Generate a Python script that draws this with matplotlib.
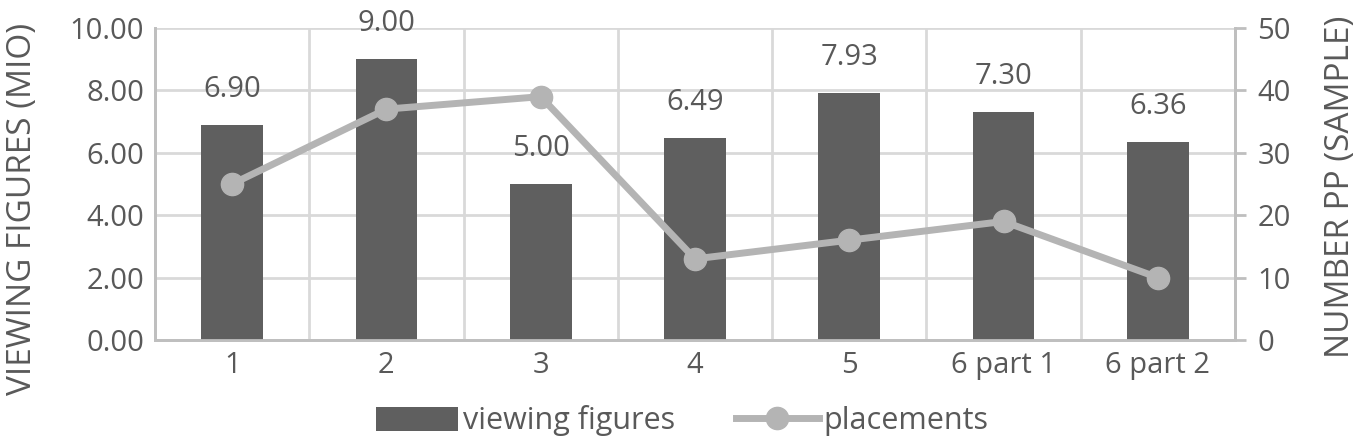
import matplotlib.pyplot as plt
import numpy as np

# data
episodes = ["1", "2", "3", "4", "5", "6 part 1", "6 part 2"]
viewing = [6.90, 9.00, 5.00, 6.49, 7.93, 7.30, 6.36]
placements = [25, 37, 39, 13, 16, 19, 10]

plt.rcParams['font.family'] = ['Open Sans', 'DejaVu Sans']
txt = "#595959"
grid = "#d9d9d9"

fig = plt.figure(figsize=(13.58, 4.42), dpi=100)
ax = fig.add_axes([155 / 1358, 1 - 340 / 442, 1080 / 1358, 312 / 442])
ax2 = ax.twinx()

x = np.arange(len(episodes))
bars = ax.bar(x, viewing, width=0.4, color="#5f5f5f", zorder=3)
for xi, v in zip(x, viewing):
    ax.annotate(f"{v:.2f}", (xi, v), xytext=(0, 15), textcoords="offset points",
                ha="center", va="bottom", fontsize=21, color=txt)

ax.set_xlim(-0.5, len(episodes) - 0.5)
ax.set_ylim(0, 10)
ax.set_yticks(np.arange(0, 10.1, 2))
ax.set_yticklabels([f"{t:.2f}" for t in np.arange(0, 10.1, 2)])
ax.set_xticks(x)
ax.set_xticklabels(episodes)
ax.set_xticks(np.arange(-0.5, len(episodes)), minor=True)
ax.grid(True, axis="y", color=grid, lw=2, zorder=0)
ax.grid(True, axis="x", which="minor", color=grid, lw=2, zorder=0)
ax.tick_params(axis="both", which="both", length=0, labelsize=21, colors=txt, pad=8)
ax.set_ylabel("VIEWING FIGURES (MIO)", fontsize=24, color=txt)
ax.yaxis.set_label_coords(-0.107, 0.42)

line, = ax2.plot(x, placements, color="#b4b4b4", lw=5, marker="o", ms=16, zorder=4)
ax2.set_ylim(0, 50)
ax2.set_yticks(np.arange(0, 51, 10))
ax2.tick_params(axis="y", length=8, width=2, labelsize=21, colors=txt, pad=8)
ax2.tick_params(axis="y", color="#bfbfbf")
ax2.set_ylabel("NUMBER PP (SAMPLE)", fontsize=24, color=txt)
ax2.yaxis.set_label_coords(1.082, 0.49)

for a in (ax, ax2):
    a.spines["top"].set_visible(False)
    for s in ("left", "bottom", "right"):
        a.spines[s].set_color("#bfbfbf")
        a.spines[s].set_linewidth(2)

fig.legend([bars, line], ["viewing figures", "placements"], loc="center",
           bbox_to_anchor=(682 / 1358, 1 - 421 / 442), ncol=2, frameon=False,
           fontsize=22, labelcolor=txt, handlelength=2.7, handleheight=0.8,
           handletextpad=0.15, columnspacing=2.0, borderpad=0, borderaxespad=0)

fig.savefig("out.png", dpi=100)
